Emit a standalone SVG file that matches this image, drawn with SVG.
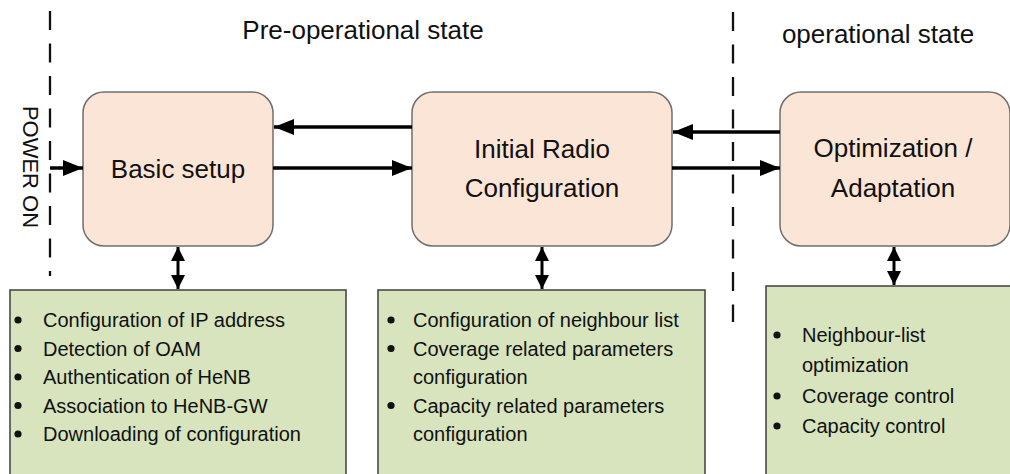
<svg xmlns="http://www.w3.org/2000/svg" width="1010" height="474" viewBox="0 0 1010 474">
<style>
text{font-family:"Liberation Sans",Arial,sans-serif;fill:#111}
.title{font-size:26px}
.node{font-size:26px;text-anchor:middle}
.item{font-size:20px}
.bul{fill:#111}
.state rect{fill:#fbe5d6;stroke:#6f6f6f;stroke-width:1.5}
.list rect{fill:#d7e4bd;stroke:#3f3f3f;stroke-width:1.5}
.dash{stroke:#111;stroke-width:2.3;stroke-dasharray:19 13.5;fill:none}
.arr{stroke:#000;stroke-width:3.5;fill:none;marker-end:url(#ah)}
.dbl{stroke:#000;stroke-width:3;fill:none;marker-end:url(#ahs);marker-start:url(#ahs)}
</style>
<defs>
<marker id="ah" markerUnits="userSpaceOnUse" markerWidth="20" markerHeight="16" refX="20" refY="8" orient="auto">
<path d="M0,0 L20,8 L0,16 z" fill="#000"/>
</marker>
<marker id="ahs" markerUnits="userSpaceOnUse" markerWidth="14" markerHeight="14" refX="14" refY="7" orient="auto-start-reverse">
<path d="M0,0 L14,7 L0,14 z" fill="#000"/>
</marker>
</defs>
<rect width="1010" height="474" fill="#fff"/>

<g id="dividers">
<line class="dash" x1="50" y1="11" x2="50" y2="276"/>
<line class="dash" x1="733" y1="12" x2="733" y2="322"/>
</g>

<text class="title" x="363" y="39" text-anchor="middle">Pre-operational state</text>
<text class="title" x="878" y="43" text-anchor="middle">operational state</text>
<text id="power-on" x="23" y="167" font-size="22" text-anchor="middle" transform="rotate(90 23 167)">POWER ON</text>

<g id="basic-setup" class="state">
<rect x="83" y="92" width="190" height="154" rx="21"/>
<text class="node" x="178" y="178">Basic setup</text>
</g>
<g id="initial-radio" class="state">
<rect x="412" y="92" width="260" height="154" rx="21"/>
<text class="node" x="542" y="158">Initial Radio</text>
<text class="node" x="542" y="197">Configuration</text>
</g>
<g id="optimization" class="state">
<rect x="780" y="92" width="230" height="154" rx="21"/>
<text class="node" x="893" y="157">Optimization /</text>
<text class="node" x="893" y="197">Adaptation</text>
</g>

<g id="list-basic" class="list">
<rect x="10" y="290" width="336" height="200"/>
<circle class="bul" cx="18" cy="320" r="3.6"/><text class="item" x="43" y="327">Configuration of IP address</text>
<circle class="bul" cx="18" cy="348.5" r="3.6"/><text class="item" x="43" y="355.5">Detection of OAM</text>
<circle class="bul" cx="18" cy="377" r="3.6"/><text class="item" x="43" y="384">Authentication of HeNB</text>
<circle class="bul" cx="18" cy="405.5" r="3.6"/><text class="item" x="43" y="412.5">Association to HeNB-GW</text>
<circle class="bul" cx="18" cy="434" r="3.6"/><text class="item" x="43" y="441">Downloading of configuration</text>
</g>
<g id="list-radio" class="list">
<rect x="378" y="290" width="327" height="200"/>
<circle class="bul" cx="391" cy="320" r="3.6"/><text class="item" x="413" y="327">Configuration of neighbour list</text>
<circle class="bul" cx="391" cy="348.5" r="3.6"/><text class="item" x="413" y="355.5">Coverage related parameters</text>
<text class="item" x="413" y="384">configuration</text>
<circle class="bul" cx="391" cy="405.5" r="3.6"/><text class="item" x="413" y="412.5">Capacity related parameters</text>
<text class="item" x="413" y="441">configuration</text>
</g>
<g id="list-optimization" class="list">
<rect x="766" y="286" width="260" height="200"/>
<circle class="bul" cx="777" cy="335" r="3.6"/><text class="item" x="802" y="342">Neighbour-list</text>
<text class="item" x="802" y="372">optimization</text>
<circle class="bul" cx="777" cy="396" r="3.6"/><text class="item" x="802" y="403">Coverage control</text>
<circle class="bul" cx="777" cy="426" r="3.6"/><text class="item" x="802" y="433">Capacity control</text>
</g>

<g id="connectors">
<line class="arr" x1="50" y1="168" x2="83" y2="168"/>
<line class="arr" x1="412" y1="127" x2="274" y2="127"/>
<line class="arr" x1="273" y1="168" x2="412" y2="168"/>
<line class="arr" x1="780" y1="132" x2="673" y2="132"/>
<line class="arr" x1="672" y1="168" x2="780" y2="168"/>
<line class="dbl" x1="178" y1="247" x2="178" y2="289"/>
<line class="dbl" x1="542" y1="247" x2="542" y2="289"/>
<line class="dbl" x1="894" y1="247" x2="894" y2="285"/>
</g>
</svg>
